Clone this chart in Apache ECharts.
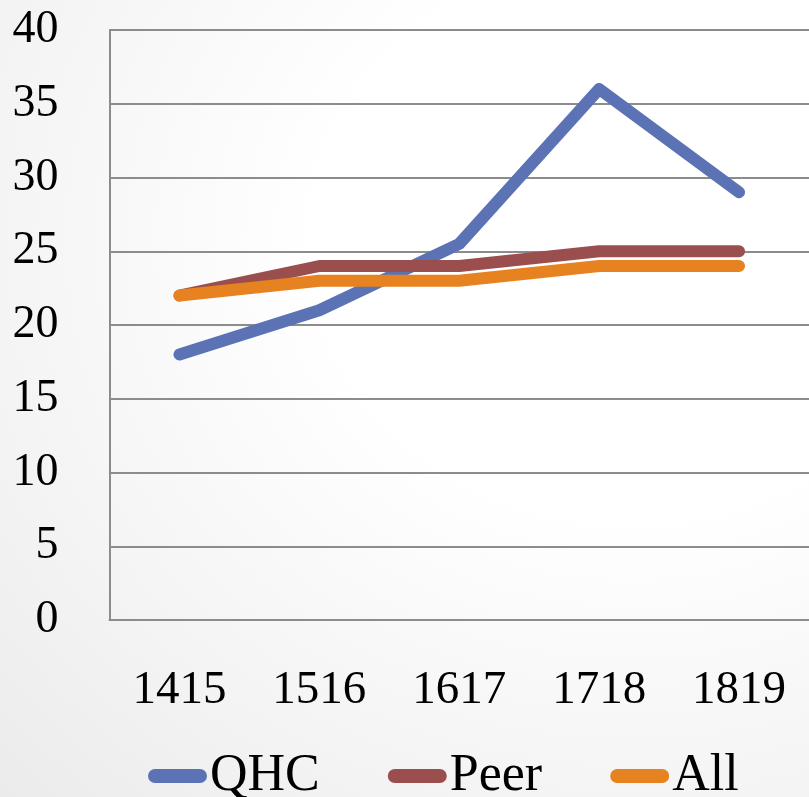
<!DOCTYPE html>
<html><head><meta charset="utf-8">
<script src="https://cdn.jsdelivr.net/npm/echarts@6/dist/echarts.min.js"></script>
<style>
html,body{margin:0;padding:0;}
#c{width:809px;height:797px;background:radial-gradient(ellipse at 78% 30%, #ffffff 0%, #ffffff 35%, #f3f3f3 75%, #ebebeb 100%);}
</style></head>
<body><div id="c"></div>
<script>
var categories = ['1415','1516','1617','1718','1819'];
var qhc = [18, 21, 25.5, 36, 29];
var peer = [22, 24, 24, 25, 25];
var all = [22, 23, 23, 24, 24];
var yTicks = {min:0, max:40, interval:5};

var font = 'Liberation Serif';
var chart = echarts.init(document.getElementById('c'), null, {renderer:'canvas'});
var pill = 'path://M7,0 L52,0 A7,7 0 0 1 52,14 L7,14 A7,7 0 0 1 7,0 Z';
function mk(name, data, color){
  return {name:name, type:'line', data:data, symbol:'none', smooth:false,
    lineStyle:{width:12, color:color, cap:'round', join:'round'}, itemStyle:{color:color}, z:2};
}
chart.setOption({
  backgroundColor:'transparent',
  animation:false,
  grid:{left:109.5, top:30, width:703, height:590, containLabel:false},
  xAxis:{type:'category', data:categories, boundaryGap:true,
    axisLine:{lineStyle:{color:'#8c8c8c', width:2}}, axisTick:{show:false},
    axisLabel:{color:'#000', fontFamily:font, fontSize:47, margin:47}},
  yAxis:{type:'value', min:yTicks.min, max:yTicks.max, interval:yTicks.interval,
    axisLine:{show:true, lineStyle:{color:'#8c8c8c', width:2}}, axisTick:{show:false},
    splitLine:{lineStyle:{color:'#8c8c8c', width:2}},
    axisLabel:{color:'#000', fontFamily:font, fontSize:46, margin:51}},
  legend:{left:148, top:750, padding:0, itemWidth:59, itemHeight:14, itemGap:68, icon:pill,
    textStyle:{color:'#000', fontFamily:font, fontSize:52, padding:[0,0,0,-2]},
    data:['QHC','Peer','All']},
  series:[mk('QHC', qhc, '#5b73b4'), mk('Peer', peer, '#9b4e4e'), mk('All', all, '#e6821f')]
});
</script></body></html>
